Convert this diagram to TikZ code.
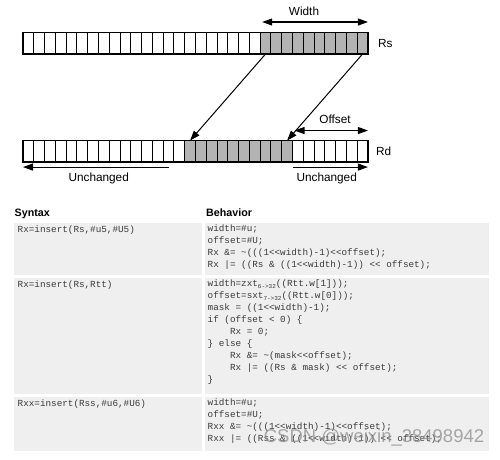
\documentclass[tikz,border=0pt]{standalone}
\usepackage{fontspec}
\setmainfont{Liberation Sans}
\setmonofont{Liberation Mono}
\usetikzlibrary{arrows.meta,positioning}
\definecolor{bitgray}{HTML}{B3B3B3}
\definecolor{rowfill}{HTML}{EFEFEF}
\definecolor{codeink}{HTML}{3A3A3A}
\definecolor{markgray}{HTML}{8C8C8C}
\newcommand{\tabin}{\phantom{xxxx}}
\newcommand{\subx}[1]{\raisebox{-2pt}{\fontsize{6}{6}\selectfont #1}}
\tikzset{
  bitcell/.style={
    rectangle, draw=black, fill=#1, line width=0.9pt,
    minimum width=10.78pt, minimum height=21.5pt,
    inner sep=0pt, outer sep=0pt
  },
  bitcell/.default=white,
  regframe/.style={draw=black, line width=1.6pt},
  movearrow/.style={-{Triangle[length=10pt,width=7pt]}, line width=1pt},
  dimarrow/.style={{Triangle[length=10pt,width=7pt]}-{Triangle[length=10pt,width=7pt]}, line width=1.1pt},
  keeparrow/.style={-{Triangle[length=10pt,width=7pt]}, line width=1.1pt},
  reglabel/.style={font=\fontsize{11.8}{14}\selectfont, inner sep=0pt},
  headtext/.style={font=\fontsize{10.7}{13}\selectfont\bfseries, anchor=base west, inner sep=0pt},
  rowbox/.style={rectangle, fill=rowfill, anchor=north west, inner sep=0pt, outer sep=0pt},
  codetext/.style={
    anchor=north west, inner sep=0pt, align=left, text=codeink,
    font=\fontsize{9.3}{12}\selectfont\ttfamily,
    execute at begin node=\strut
  },
  wmark/.style={font=\fontsize{18.5}{20}\selectfont, text=markgray, opacity=0.75, inner sep=0pt},
}
\begin{document}
\begin{tikzpicture}[x=1pt,y=-1pt]
\useasboundingbox (0,0) rectangle (500,459);
% Source register
\foreach \i in {0,...,21}
  \node[bitcell] (rs-\i) at ({28.39+10.78*\i},43.25) {};
\foreach \i in {22,...,31}
  \node[bitcell=bitgray] (rs-\i) at ({28.39+10.78*\i},43.25) {};
\draw[regframe] (rs-0.north west) rectangle (rs-31.south east);
\node[reglabel, right=10pt of rs-31] (rs-lbl) {Rs};
\draw[dimarrow] ([xshift=2pt,yshift=10.5pt]rs-22.north west) -- ([yshift=10.5pt]rs-31.north east);
\node[reglabel] (width-lbl) at (304,11) {Width};

% Destination register
\foreach \i in {0,...,14}
  \node[bitcell] (rd-\i) at ({28.39+10.78*\i},151.3) {};
\foreach \i in {15,...,24}
  \node[bitcell=bitgray] (rd-\i) at ({28.39+10.78*\i},151.3) {};
\foreach \i in {25,...,31}
  \node[bitcell] (rd-\i) at ({28.39+10.78*\i},151.3) {};
\draw[regframe] (rd-0.north west) rectangle (rd-31.south east);
\node[reglabel, right=8pt of rd-31] (rd-lbl) {Rd};
\draw[dimarrow] ([xshift=2pt,yshift=10pt]rd-25.north west) -- ([yshift=10pt]rd-31.north east);
\node[reglabel] (offset-lbl) at (335,119) {Offset};
\draw[keeparrow] ([yshift=-5pt]rd-13.south) -- ([yshift=-5pt]rd-0.south west);
\draw[keeparrow] ([yshift=-5pt]rd-25.south west) -- ([yshift=-5pt]rd-31.south east);
\node[reglabel] (keep-lo) at (98.7,178.3) {Unchanged};
\node[reglabel] (keep-hi) at (326.7,178.3) {Unchanged};

% Field moves
\draw[movearrow] (rs-22.south) -- (rd-15.north);
\draw[movearrow] (rs-31.south) -- (rd-24.north);

% Table
\node[headtext] (syn-head) at (14.5,216) {Syntax};
\node[headtext] (beh-head) at (206,216) {Behavior};

\node[rowbox, minimum width=188pt, minimum height=51.5pt] (r1-syn) at (14,223) {};
\node[rowbox, minimum width=284pt, minimum height=51.5pt] (r1-beh) at (205,223) {};
\node[rowbox, minimum width=188pt, minimum height=115.5pt] (r2-syn) at (14,278) {};
\node[rowbox, minimum width=284pt, minimum height=115.5pt] (r2-beh) at (205,278) {};
\node[rowbox, minimum width=188pt, minimum height=54pt] (r3-syn) at (14,397) {};
\node[rowbox, minimum width=284pt, minimum height=54pt] (r3-beh) at (205,397) {};

\node[codetext] (r1-syn-txt) at (17.5,224.1) {Rx=insert(Rs,\#u5,\#U5)};
\node[codetext] (r1-beh-txt) at (207.5,224.1) {width=\#u;\\
offset=\#U;\\
Rx \&= \textasciitilde(((1<<width)-1)<<offset);\\
Rx |= ((Rs \& ((1<<width)-1)) << offset);};

\node[codetext] (r2-syn-txt) at (17.5,279.1) {Rx=insert(Rs,Rtt)};
\node[codetext] (r2-beh-txt) at (207.5,279.1) {width=zxt\subx{6->32}((Rtt.w[1]));\\
offset=sxt\subx{7->32}((Rtt.w[0]));\\
mask = ((1<<width)-1);\\
if (offset < 0) \{\\
\tabin Rx = 0;\\
\} else \{\\
\tabin Rx \&= \textasciitilde(mask<<offset);\\
\tabin Rx |= ((Rs \& mask) << offset);\\
\}};

\node[codetext] (r3-syn-txt) at (17.5,398.1) {Rxx=insert(Rss,\#u6,\#U6)};
\node[codetext] (r3-beh-txt) at (207.5,398.1) {width=\#u;\\
offset=\#U;\\
Rxx \&= \textasciitilde(((1<<width)-1)<<offset);\\
Rxx |= ((Rss \& ((1<<width)-1)) << offset);};

% Overlay mark
\node[wmark] (wm) at (374,438) {CSDN @weixin\_38498942};
\end{tikzpicture}
\end{document}
